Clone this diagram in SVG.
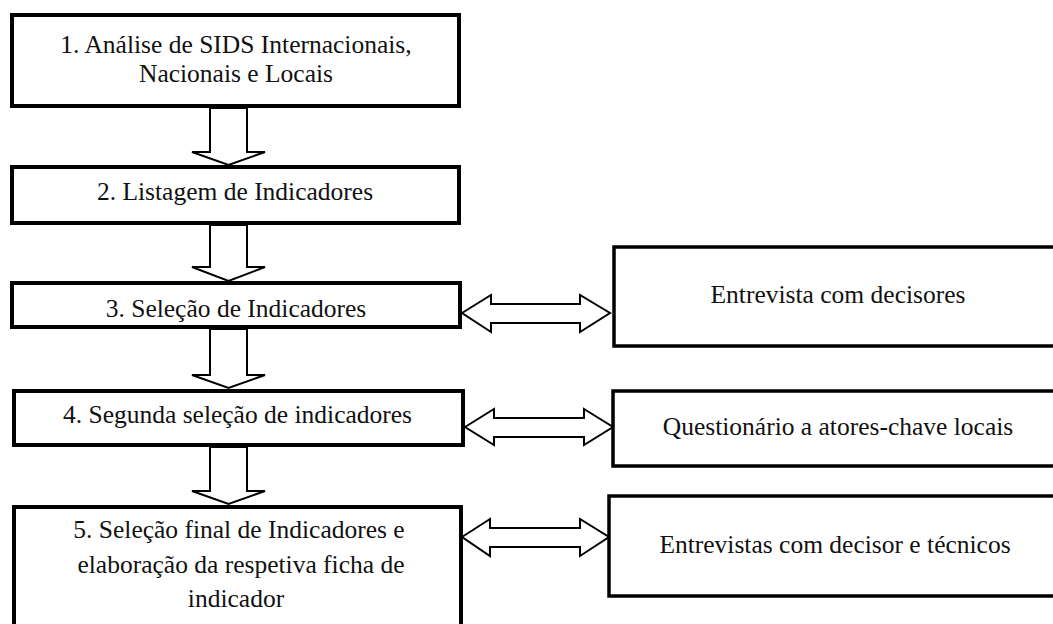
<svg xmlns="http://www.w3.org/2000/svg" width="1053" height="624" viewBox="0 0 1053 624">
<style>
.box{fill:#fff;stroke:#000;stroke-width:4}
.rbox{fill:#fff;stroke:#000;stroke-width:3.5}
.arr{fill:#fff;stroke:#000;stroke-width:2;stroke-linejoin:miter}
text{font-family:"Liberation Serif","DejaVu Serif",serif;font-size:25.5px;fill:#111;text-anchor:middle}
</style>
<rect width="1053" height="624" fill="#fff"/>
<g id="connectors">
<polygon class="arr" points="210,108 247,108 247,152 265,152 228.5,165 192,152 210,152"/>
<polygon class="arr" points="210,225 247,225 247,267 265,267 228.5,281 192,267 210,267"/>
<polygon class="arr" points="210,329 247,329 247,375 265,375 228.5,388 192,375 210,375"/>
<polygon class="arr" points="210,447 247,447 247,491 265,491 228.5,504 192,491 210,491"/>
<polygon class="arr" points="462,313 491,295 491,304 580,304 580,295 610,313 580,332 580,323 491,323 491,332"/>
<polygon class="arr" points="465,427 494,409 494,418 584,418 584,409 613,427 584,445 584,437 494,437 494,445"/>
<polygon class="arr" points="462,537 490,519 490,528 580,528 580,519 609,537 580,556 580,547 490,547 490,556"/>
</g>
<g id="n1">
<rect class="box" x="12" y="15" width="447" height="91"/>
<text x="236" y="53">1. Análise de SIDS Internacionais,</text>
<text x="236" y="82">Nacionais e Locais</text>
</g>
<g id="n2">
<rect class="box" x="12" y="167" width="447" height="56"/>
<text x="235" y="200">2. Listagem de Indicadores</text>
</g>
<g id="n3">
<rect class="box" x="12" y="283" width="448" height="44"/>
<text x="236" y="317">3. Seleção de Indicadores</text>
</g>
<g id="n4">
<rect class="box" x="14" y="391" width="449" height="54"/>
<text x="237.5" y="423">4. Segunda seleção de indicadores</text>
</g>
<g id="n5">
<rect class="box" x="14" y="507" width="447" height="140"/>
<text x="239" y="538">5. Seleção final de Indicadores e</text>
<text x="241" y="573">elaboração da respetiva ficha de</text>
<text x="236" y="607">indicador</text>
</g>
<g id="nA">
<rect class="rbox" x="614" y="247" width="450" height="99"/>
<text x="838" y="303">Entrevista com decisores</text>
</g>
<g id="nB">
<rect class="rbox" x="613" y="391" width="450" height="75"/>
<text x="838" y="435">Questionário a atores-chave locais</text>
</g>
<g id="nC">
<rect class="rbox" x="609" y="496" width="450" height="100"/>
<text x="835" y="553">Entrevistas com decisor e técnicos</text>
</g>
</svg>
